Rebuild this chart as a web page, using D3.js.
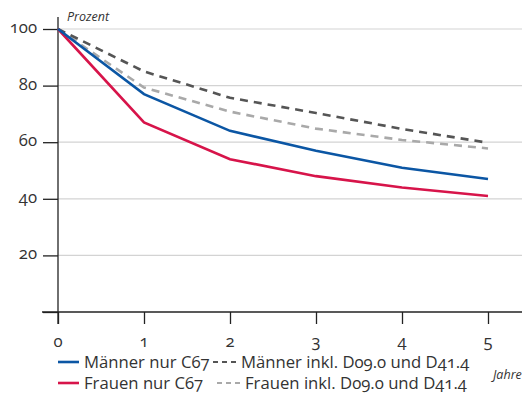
<!DOCTYPE html>
<html><head><meta charset="utf-8">
<script src="https://cdn.jsdelivr.net/npm/d3@7"></script>
<style>
body{margin:0;background:#fff;}
svg{display:block;}
svg text{font-family:"Open Sans",sans-serif;font-variant-numeric:oldstyle-nums;font-feature-settings:"onum" 1;}
</style></head><body>
<div id="chart"></div>
<script>
const years = [0,1,2,3,4,5];
const yTicks = [20,40,60,80,100];
const maennerC67 = [100,77,64,57,51,47];
const frauenC67 = [100,67,54,48,44,41];
const maennerInkl = [100,85,75.7,70.3,64.7,59.8];
const frauenInkl = [100,79.3,70.8,64.8,60.8,57.8];
const seriesNames = ["Männer nur C67","Frauen nur C67","Männer inkl. D09.0 und D41.4","Frauen inkl. D09.0 und D41.4"];
const yTitle = "Prozent", xTitle = "Jahre";

const W=527,H=395;
const svg=d3.select("#chart").append("svg").attr("width",W).attr("height",H);
const x=d3.scaleLinear().domain([0,5]).range([58,488]);
const y=d3.scaleLinear().domain([0,100]).range([312,29]);

// gridlines
svg.append("g").selectAll("line").data(yTicks).join("line")
  .attr("x1",58).attr("x2",522).attr("y1",d=>y(d)).attr("y2",d=>y(d))
  .attr("stroke","#d3d3d3").attr("stroke-width",1.2);

// y axis (ticks via d3 axis, labels as plain text)
const ya=svg.append("g").attr("transform","translate(58,0)")
  .call(d3.axisLeft(y).tickValues(yTicks.concat([0])).tickSize(15).tickFormat(""));
ya.select(".domain").remove();
ya.selectAll(".tick line").attr("stroke","#222").attr("stroke-width",1.3);
svg.selectAll("text.ylab").data(yTicks).join("text").attr("class","ylab")
  .attr("x",37).attr("y",d=>y(d)+4).attr("text-anchor","end")
  .attr("font-size",16.7).attr("fill","#333").text(d=>String(d));
svg.append("line").attr("x1",58).attr("x2",58).attr("y1",17).attr("y2",324).attr("stroke","#222").attr("stroke-width",1.3);

// x axis
const xa=svg.append("g").attr("transform","translate(0,312)")
  .call(d3.axisBottom(x).tickValues(years).tickSize(12).tickFormat(""));
xa.select(".domain").remove();
xa.selectAll(".tick line").attr("stroke","#222").attr("stroke-width",1.3);
svg.selectAll("text.xlab").data(years).join("text").attr("class","xlab")
  .attr("x",d=>x(d)).attr("y",347).attr("text-anchor","middle")
  .attr("font-size",16.7).attr("fill","#333").text(d=>String(d));
svg.append("line").attr("x1",42).attr("x2",522).attr("y1",312).attr("y2",312).attr("stroke","#222").attr("stroke-width",1.3);

svg.append("text").attr("x",67).attr("y",21).attr("font-size",12.5).attr("font-style","italic").attr("fill","#333").text(yTitle);
svg.append("text").attr("x",493).attr("y",379).attr("font-size",12.5).attr("font-style","italic").attr("fill","#333").text(xTitle);

const line=d3.line().x((d,i)=>x(years[i])).y(d=>y(d));
const styles=[
  {data:maennerC67,color:"#0b56a4",dash:null},
  {data:frauenC67,color:"#d7144a",dash:null},
  {data:maennerInkl,color:"#555555",dash:"8,6"},
  {data:frauenInkl,color:"#a9a9a9",dash:"8,6"}
];
[3,2,1,0].forEach(i=>{
  const s=styles[i];
  svg.append("path").datum(s.data).attr("d",line).attr("fill","none")
    .attr("stroke",s.color).attr("stroke-width",2.6).attr("stroke-dasharray",s.dash);
});

// legend
const leg=[
  {i:0,x:58,y:362},{i:2,x:213,y:362},{i:1,x:58,y:383},{i:3,x:217,y:383}
];
leg.forEach(l=>{
  const s=styles[l.i];
  svg.append("line").attr("x1",l.x).attr("x2",l.x+(s.dash?23:21)).attr("y1",l.y).attr("y2",l.y)
    .attr("stroke",s.color).attr("stroke-width",s.dash?2:2.6).attr("stroke-dasharray",s.dash?"5,4":null);
  svg.append("text").attr("x",l.x+(s.dash?28:26)).attr("y",l.y+6).attr("font-size",16.7).attr("fill","#333").text(seriesNames[l.i]);
});
</script></body></html>
